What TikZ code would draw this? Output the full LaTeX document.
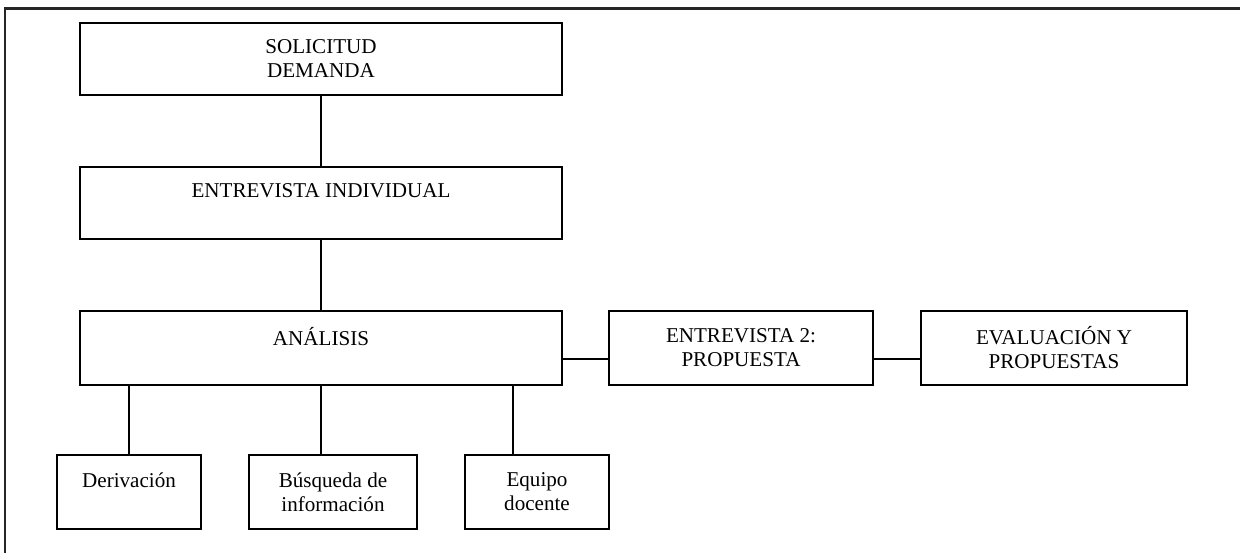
\documentclass[tikz,border=0pt]{standalone}
\usepackage{fontspec}
\setmainfont{Liberation Serif}
\usepackage{tikz}

\begin{document}
\begin{tikzpicture}[
        caja/.style={draw, line width=1pt, align=center, inner sep=0pt,
            font=\fontsize{12}{13.7}\selectfont},
        linea/.style={line width=0.9pt}
    ]
        \useasboundingbox (0,0) rectangle (24.8,-11.06);

        % marco
        \draw[line width=1.2pt, black!85] (0.1,-11.2) -- (0.1,-0.17) -- (25,-0.17);

        % columna principal
        \node[caja, minimum width=9.64cm, minimum height=1.44cm] (sol) at (6.42,-1.18) {SOLICITUD\\DEMANDA};
        \node[caja, minimum width=9.64cm, minimum height=1.44cm] (ent) at (6.42,-4.06) {ENTREVISTA INDIVIDUAL\\~};
        \node[caja, minimum width=9.64cm, minimum height=1.48cm] (ana) at (6.42,-6.96) {ANÁLISIS\\~};

        % a la derecha
        \node[caja, minimum width=5.28cm, minimum height=1.48cm] (ent2) at (14.82,-6.96) {ENTREVISTA 2:\\PROPUESTA};
        \node[caja, minimum width=5.32cm, minimum height=1.48cm] (eval) at (21.08,-6.96) {EVALUACIÓN Y\\PROPUESTAS};

        % abajo
        \node[caja, minimum width=2.88cm, minimum height=1.48cm] (der) at (2.58,-9.84) {Derivación\\~};
        \node[caja, minimum width=3.36cm, minimum height=1.48cm] (bus) at (6.66,-9.84) {Búsqueda de\\información};
        \node[caja, minimum width=2.88cm, minimum height=1.48cm] (equ) at (10.74,-9.84) {Equipo\\docente};

        % conexiones
        \draw[linea] (sol.south) -- (ent.north);
        \draw[linea] (ent.south) -- (ana.north);
        \draw[linea] ([yshift=-0.22cm]ana.east) -- ([yshift=-0.22cm]ent2.west);
        \draw[linea] ([yshift=-0.22cm]ent2.east) -- ([yshift=-0.22cm]eval.west);
        \draw[linea] (der.north |- ana.south) -- (der.north);
        \draw[linea] (ana.south) -- (ana.south |- bus.north);
        \draw[linea] ([xshift=-0.48cm]equ.north |- ana.south) -- ([xshift=-0.48cm]equ.north);

    \end{tikzpicture}
\end{document}
